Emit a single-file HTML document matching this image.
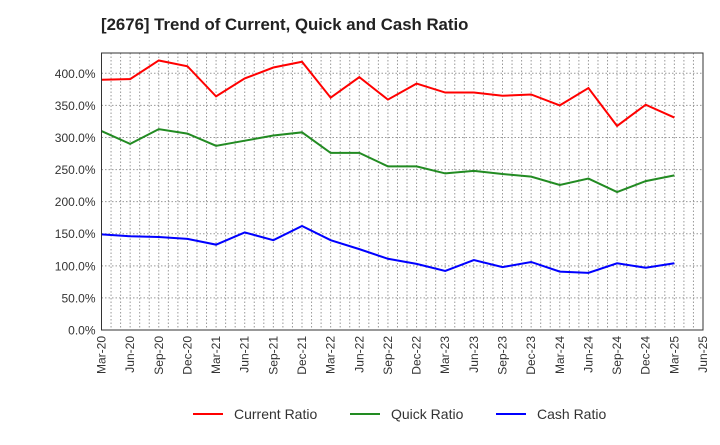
<!DOCTYPE html>
<html><head><meta charset="utf-8"><style>
body{margin:0;background:#fff;font-family:"Liberation Sans",sans-serif}
svg text{font-family:"Liberation Sans",sans-serif;fill:#333}
</style></head><body>
<svg id="c" width="720" height="440">
<text x="101" y="30" font-size="16.8" font-weight="bold" style="fill:#222">[2676]  Trend of Current, Quick and Cash Ratio</text>
<g id="grid"></g><g id="series"></g><g id="axes"></g>
<g id="legend"></g>
</svg>
<script>
const categories=["Mar-20","Jun-20","Sep-20","Dec-20","Mar-21","Jun-21","Sep-21","Dec-21","Mar-22","Jun-22","Sep-22","Dec-22","Mar-23","Jun-23","Sep-23","Dec-23","Mar-24","Jun-24","Sep-24","Dec-24","Mar-25","Jun-25"];
const currentRatio=[390,391,420,411,364,392,409,418,362,394,359,384,370,370,365,367,350,377,318,351,331];
const quickRatio=[310,290,313,306,287,295,303,308,276,276,255,255,244,248,243,239,226,236,215,232,241];
const cashRatio=[149,146,145,142,133,152,140,162,140,126,111,103,92,109,98,106,91,89,104,97,104];
const yTicks=[0,50,100,150,200,250,300,350,400];
const L=101.5,R=703,T=53,B=330;
const x=i=>L+i*(R-L)/21;
const y=v=>B-v*(B-73.3)/400;
const NS="http://www.w3.org/2000/svg";
function mk(t,a,p){const e=document.createElementNS(NS,t);for(const k in a)e.setAttribute(k,a[k]);p.appendChild(e);return e;}
const grid=document.getElementById('grid'),axes=document.getElementById('axes'),ser=document.getElementById('series'),lg=document.getElementById('legend');
for(let m=1;m<63;m++){const xx=L+m*(R-L)/63;const l=mk('line',{x1:xx,x2:xx,y1:T,y2:B,stroke:'#999','stroke-dasharray':'1.5,2','stroke-width':1},grid);

}
yTicks.forEach(v=>{if(v>0){const l=mk('line',{x1:L,x2:R,y1:y(v),y2:y(v),stroke:'#999','stroke-dasharray':'1.5,2'},grid);

}
const t=mk('text',{x:L-6,y:y(v)+4.5,'text-anchor':'end','font-size':12},axes);t.textContent=v.toFixed(1)+'%';

});
categories.forEach((c,i)=>{const t=mk('text',{transform:`translate(${x(i)+4},${B+6}) rotate(-90)`,'text-anchor':'end','font-size':12},axes);t.textContent=c;

});
const fr=mk('rect',{x:L,y:T,width:R-L,height:B-T,fill:'none',stroke:'#333','stroke-width':1},axes);


const S=[["Current Ratio",currentRatio,"#f00","current-ratio-line"],["Quick Ratio",quickRatio,"#228b22","quick-ratio-line"],["Cash Ratio",cashRatio,"#00f","cash-ratio-line"]];
const lx=[193,350,496];
S.forEach((s,k)=>{const p=mk('polyline',{points:s[1].map((v,i)=>x(i)+','+y(v)).join(' '),fill:'none',stroke:s[2],'stroke-width':2},ser);


const g=mk('g',{},lg);


mk('line',{x1:lx[k],x2:lx[k]+30,y1:414,y2:414,stroke:s[2],'stroke-width':2},g);
const t=mk('text',{x:lx[k]+41,y:419,'font-size':14},g);t.textContent=s[0];});
</script>
</body></html>
